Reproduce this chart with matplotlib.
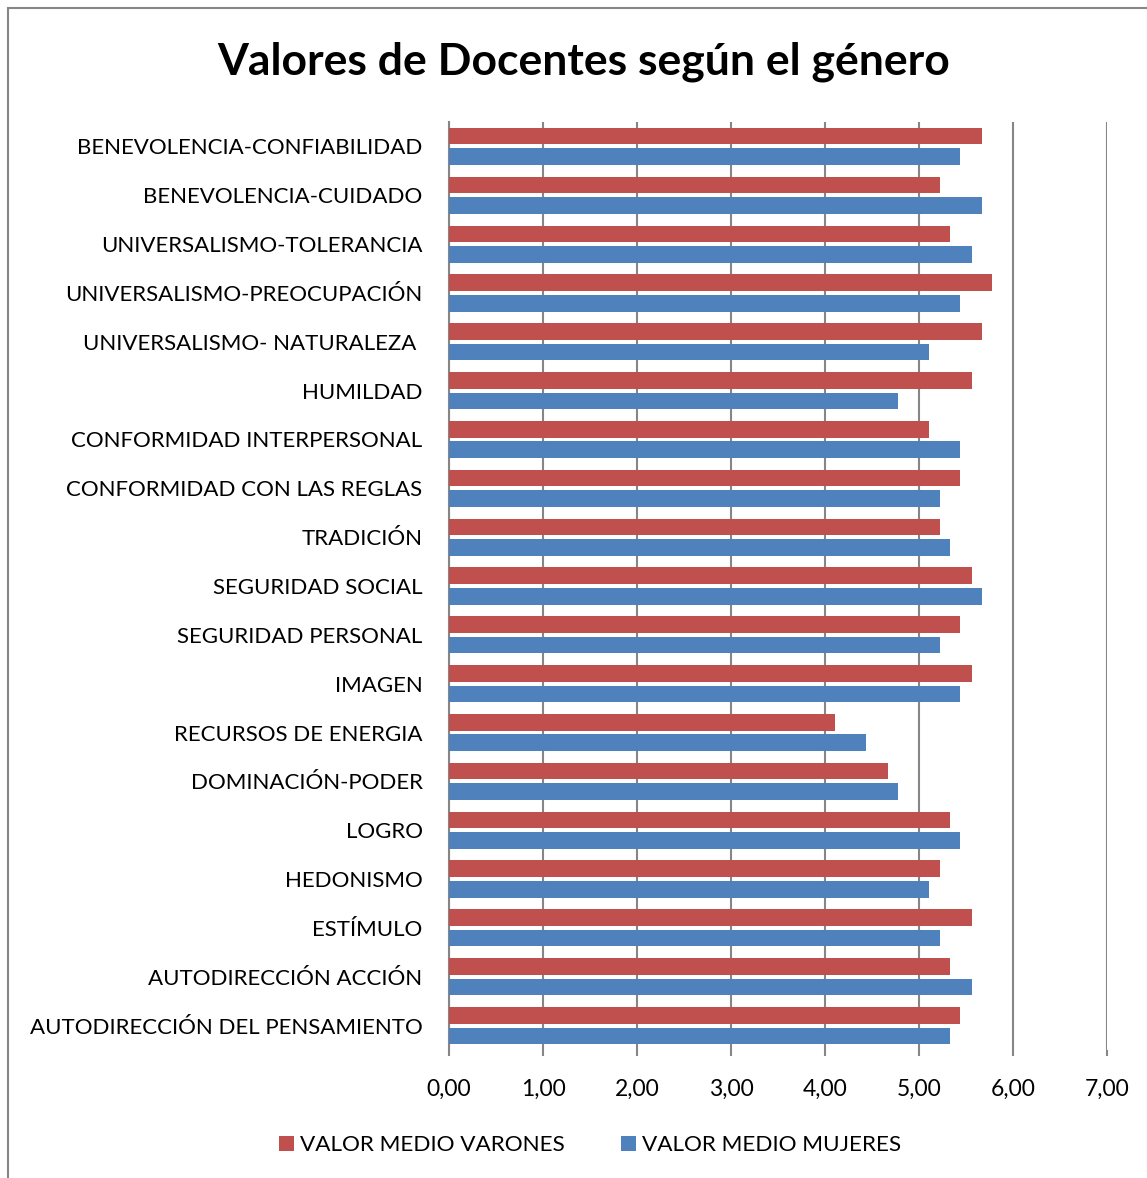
import matplotlib.pyplot as plt
import numpy as np
from matplotlib.patches import Rectangle
from matplotlib.ticker import FuncFormatter

plt.rcParams['font.family'] = ['Lato', 'DejaVu Sans']

# data (top to bottom as shown)
categories = [
    "BENEVOLENCIA-CONFIABILIDAD",
    "BENEVOLENCIA-CUIDADO",
    "UNIVERSALISMO-TOLERANCIA",
    "UNIVERSALISMO-PREOCUPACIÓN",
    "UNIVERSALISMO- NATURALEZA ",
    "HUMILDAD",
    "CONFORMIDAD INTERPERSONAL",
    "CONFORMIDAD CON LAS REGLAS",
    "TRADICIÓN",
    "SEGURIDAD SOCIAL",
    "SEGURIDAD PERSONAL",
    "IMAGEN",
    "RECURSOS DE ENERGIA",
    "DOMINACIÓN-PODER",
    "LOGRO",
    "HEDONISMO",
    "ESTÍMULO",
    "AUTODIRECCIÓN ACCIÓN",
    "AUTODIRECCIÓN DEL PENSAMIENTO",
]
varones = [5.67, 5.22, 5.33, 5.78, 5.67, 5.56, 5.11, 5.44, 5.22, 5.56,
           5.44, 5.56, 4.11, 4.67, 5.33, 5.22, 5.56, 5.33, 5.44]
mujeres = [5.44, 5.67, 5.56, 5.44, 5.11, 4.78, 5.44, 5.22, 5.33, 5.67,
           5.22, 5.44, 4.44, 4.78, 5.44, 5.11, 5.22, 5.56, 5.33]
x_ticks = [0, 1, 2, 3, 4, 5, 6, 7]

red = '#C0504D'
blue = '#4F81BD'
grid_col = '#868686'

fig = plt.figure(figsize=(11.47, 11.78), dpi=100)
ax = fig.add_axes([449 / 1147, 1 - 1050 / 1178, 658 / 1147, 928 / 1178])

n = len(categories)
y = np.arange(n)[::-1]
h = 0.34
ax.barh(y + 0.21, varones, height=h, color=red, label='VALOR MEDIO VARONES', zorder=3)
ax.barh(y - 0.21, mujeres, height=h, color=blue, label='VALOR MEDIO MUJERES', zorder=3)

ax.set_ylim(-0.5, n - 0.5)
ax.set_xlim(0, 7)
ax.set_yticks(y)
ax.set_yticklabels(categories, fontsize=16)
ax.tick_params(axis='y', length=0, pad=19)
ax.set_xticks(x_ticks)
ax.xaxis.set_major_formatter(FuncFormatter(lambda v, p: f"{v:.2f}".replace('.', ',')))
ax.tick_params(axis='x', labelsize=16.5, length=4, width=1.5, color=grid_col, pad=17)
ax.grid(axis='x', color=grid_col, linewidth=1.5, zorder=0)
for s in ['top', 'right', 'bottom']:
    ax.spines[s].set_visible(False)
ax.spines['left'].set_color(grid_col)
ax.spines['left'].set_linewidth(1.5)

fig.text(584 / 1147, 1 - 62 / 1178, 'Valores de Docentes según el género',
         fontsize=32, fontweight='bold', ha='center', va='center')

fig.legend(loc='center', bbox_to_anchor=(590 / 1147, 1 - 1145 / 1178), ncol=2,
           frameon=False, fontsize=16.2, handlelength=0.65, handleheight=0.65,
           handletextpad=0.27, columnspacing=2.5)

# chart border
fig.patches.append(Rectangle((8 / 1147, -0.05), 1.1, 1.05 - 8 / 1178,
                             transform=fig.transFigure, fill=False,
                             edgecolor=grid_col, linewidth=1.5))

fig.savefig('out.png', dpi=100)
